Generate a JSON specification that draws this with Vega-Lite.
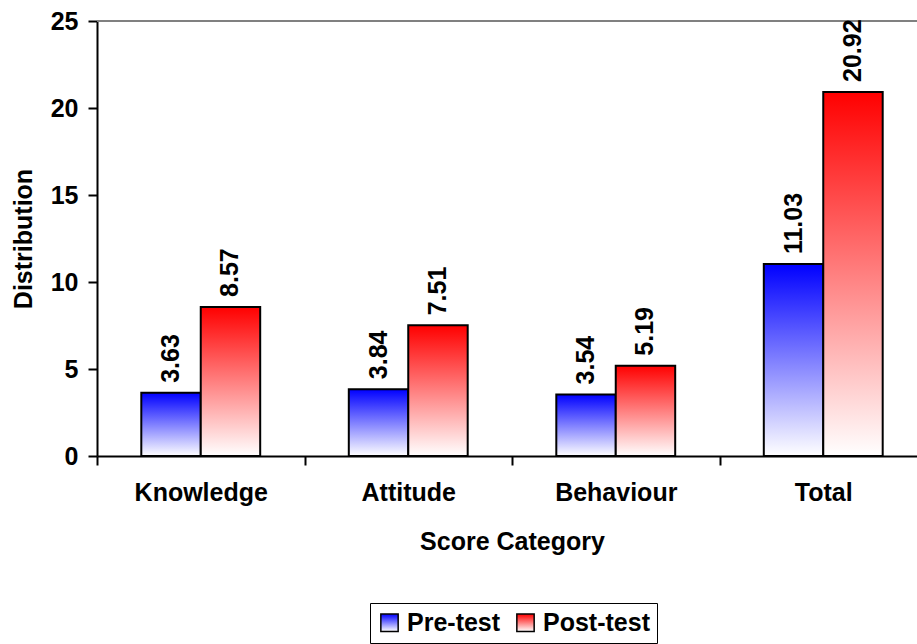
{
  "$schema": "https://vega.github.io/schema/vega-lite/v6.json",
  "width": 820,
  "height": 435,
  "autosize": "none",
  "padding": {"left": 97, "top": 21, "right": 0, "bottom": 188},
  "background": "white",
  "config": {"view": {"stroke": null}, "font": "Liberation Sans"},
  "data": {"values": [
    {"category": "Knowledge", "series": "Pre-test", "value": 3.63},
    {"category": "Knowledge", "series": "Post-test", "value": 8.57},
    {"category": "Attitude", "series": "Pre-test", "value": 3.84},
    {"category": "Attitude", "series": "Post-test", "value": 7.51},
    {"category": "Behaviour", "series": "Pre-test", "value": 3.54},
    {"category": "Behaviour", "series": "Post-test", "value": 5.19},
    {"category": "Total", "series": "Pre-test", "value": 11.03},
    {"category": "Total", "series": "Post-test", "value": 20.92}
  ]},
  "layer": [
    {
      "mark": {"type": "rule", "color": "#808080", "strokeWidth": 2},
      "encoding": {"y": {"datum": 25, "type": "quantitative", "scale": {"domain": [0, 25]}}}
    },
    {
      "encoding": {
        "x": {
          "field": "category", "type": "nominal",
          "sort": ["Knowledge", "Attitude", "Behaviour", "Total"],
          "scale": {"range": [0, 830], "paddingInner": 0.427, "paddingOuter": 0.2135},
          "axis": {
            "labelAngle": 0, "tickOffset": -103.75, "labelOffset": 103.75,
            "domainColor": "black", "domainWidth": 2,
            "tickColor": "black", "tickWidth": 2, "tickSize": 9,
            "labelFontSize": 25, "labelFontWeight": "bold", "labelColor": "black", "labelPadding": 15,
            "title": "Score Category", "titleFontSize": 25, "titleFontWeight": "bold", "titleColor": "black", "titlePadding": 24
          }
        },
        "xOffset": {"field": "series", "type": "nominal", "sort": ["Pre-test", "Post-test"], "scale": {"domain": ["Pre-test", "Post-test"], "paddingInner": 0, "paddingOuter": 0}},
        "y": {
          "field": "value", "type": "quantitative",
          "scale": {"domain": [0, 25]},
          "axis": {
            "values": [0, 5, 10, 15, 20, 25], "grid": false,
            "domainColor": "black", "domainWidth": 2,
            "tickColor": "black", "tickWidth": 2, "tickSize": 9,
            "labelFontSize": 25, "labelFontWeight": "bold", "labelColor": "black", "labelPadding": 10,
            "title": "Distribution", "titleFontSize": 25, "titleFontWeight": "bold", "titleColor": "black", "titlePadding": 14
          }
        }
      },
      "layer": [
        {
          "mark": {"type": "bar", "stroke": "black", "strokeWidth": 2},
          "encoding": {
            "fill": {
              "field": "series", "type": "nominal",
              "scale": {
                "domain": ["Pre-test", "Post-test"],
                "range": [
                  {"expr": "{gradient: 'linear', x1: 0, y1: 0, x2: 0, y2: 1, stops: [{offset: 0, color: '#0000ff'}, {offset: 1, color: '#ffffff'}]}"},
                  {"expr": "{gradient: 'linear', x1: 0, y1: 0, x2: 0, y2: 1, stops: [{offset: 0, color: '#ff0000'}, {offset: 1, color: '#ffffff'}]}"}
                ]
              },
              "legend": {
                "title": null, "orient": "none", "legendX": 273, "legendY": 582,
                "direction": "horizontal", "padding": 7,
                "strokeColor": "black",
                "labelFontSize": 25, "labelFontWeight": "bold", "labelColor": "black",
                "symbolType": "square", "symbolSize": 300,
                "symbolStrokeColor": "black", "symbolStrokeWidth": 1.5,
                "columnPadding": 12, "labelOffset": 5
              }
            }
          }
        },
        {
          "mark": {"type": "text", "angle": 270, "align": "left", "baseline": "middle", "dx": 10, "fontSize": 25, "fontWeight": "bold", "color": "black"},
          "encoding": {"text": {"field": "value", "type": "quantitative", "format": ".2f"}}
        }
      ]
    }
  ]
}
